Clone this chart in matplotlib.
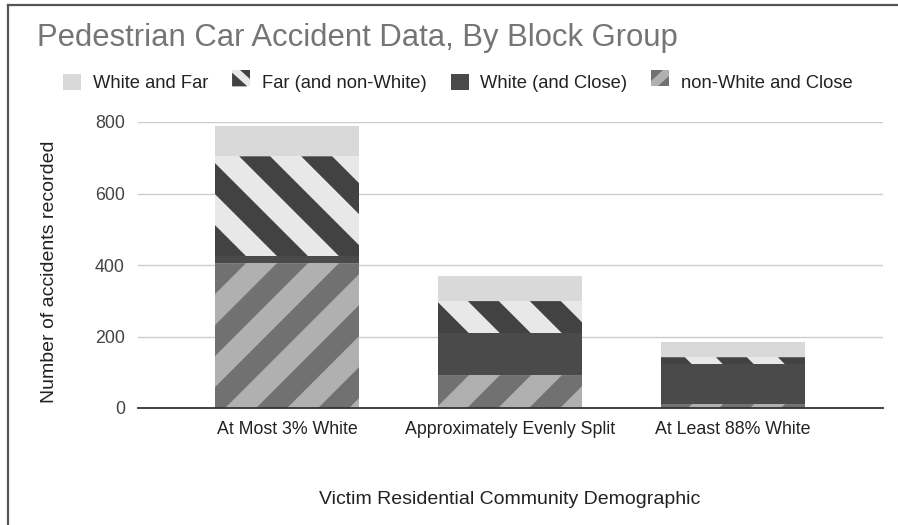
import numpy as np
import matplotlib
matplotlib.use('Agg')
import matplotlib.pyplot as plt
from matplotlib.patches import Rectangle, Polygon, Patch
from matplotlib.transforms import IdentityTransform
from matplotlib.lines import Line2D

plt.rcParams['font.family'] = ['Liberation Sans', 'DejaVu Sans']

categorias = ['At Most 3% White', 'Approximately Evenly Split', 'At Least 88% White']
series = ['White and Far', 'Far (and non-White)', 'White (and Close)', 'non-White and Close']

# valores (de abajo hacia arriba en la pila)
noblanco_cerca = [405, 92, 11]
blanco_cerca = [20, 117, 111]
lejos_noblanco = [279, 90, 20]
blanco_lejos = [85, 71, 42]

yticks = [0, 200, 400, 600, 800]

C_CLARO = '#d9d9d9'
C_OSCURO = '#4a4a4a'
C_RAYA_FONDO = '#e8e8e8'
C_RAYA = '#424242'
C_GRIS_FONDO = '#b0b0b0'
C_GRIS_RAYA = '#717171'

fig = plt.figure(figsize=(8.98, 5.25), dpi=100)
ax = fig.add_axes([138/898, 1 - 408/525, (883 - 138)/898, (408 - 122)/525])

X = np.arange(len(categorias))
ancho = 0.646
ax.set_xlim(-0.668, 2.672)
ax.set_ylim(0, 800)


def Rayas(ax, x0, x1, y0, y1, fondo, raya, direccion, periodo=62):
    rect = Rectangle((x0, y0), x1 - x0, y1 - y0, facecolor=fondo, edgecolor='none', zorder=2)
    ax.add_patch(rect)
    px0, py0 = ax.transData.transform((x0, y0))
    px1, py1 = ax.transData.transform((x1, y1))
    h = py1 - py0
    mitad = periodo / 2
    if direccion == '\\':
        s = px0
        fin = px1 + h + periodo
    else:
        s = px0 - h - periodo
        fin = px1 + periodo
    while s < fin:
        if direccion == '\\':
            pts = [(s, py0), (s + mitad, py0), (s + mitad - h, py1), (s - h, py1)]
        else:
            pts = [(s, py0), (s + mitad, py0), (s + mitad + h, py1), (s + h, py1)]
        p = Polygon(pts, closed=True, facecolor=raya, edgecolor='none',
                    transform=IdentityTransform(), zorder=3)
        ax.add_patch(p)
        p.set_clip_path(rect)
        s += periodo


for idx, x in enumerate(X):
    x0 = x - ancho / 2
    x1 = x + ancho / 2
    base = 0
    Rayas(ax, x0, x1, base, base + noblanco_cerca[idx], C_GRIS_FONDO, C_GRIS_RAYA, '/')
    base += noblanco_cerca[idx]
    ax.bar(x, blanco_cerca[idx], ancho, bottom=base, color=C_OSCURO, zorder=2)
    base += blanco_cerca[idx]
    Rayas(ax, x0, x1, base, base + lejos_noblanco[idx], C_RAYA_FONDO, C_RAYA, '\\')
    base += lejos_noblanco[idx]
    ax.bar(x, blanco_lejos[idx], ancho, bottom=base, color=C_CLARO, zorder=2)

ax.set_yticks(yticks)
ax.set_xticks(X)
ax.set_xticklabels(categorias, fontsize=12.8, color='#222222')
ax.tick_params(axis='y', length=0, pad=9.5, labelsize=12.8, labelcolor='#444444')
ax.tick_params(axis='x', length=0, pad=9, colors='#222222')
ax.grid(axis='y', color='#cccccc', linewidth=1, zorder=0)
for lado in ['top', 'right', 'left']:
    ax.spines[lado].set_visible(False)
ax.spines['bottom'].set_color('#333333')
ax.spines['bottom'].set_linewidth(1.3)
ax.spines['bottom'].set_zorder(4)


class ManejaRayas:
    def __init__(self, fondo, raya, direccion):
        self.fondo = fondo
        self.raya = raya
        self.direccion = direccion

    def legend_artist(self, legend, orig_handle, fontsize, handlebox):
        x0, y0 = handlebox.xdescent, handlebox.ydescent
        w, h = handlebox.width, handlebox.height
        t = handlebox.get_transform()
        fondo = Rectangle((x0, y0), w, h, facecolor=self.fondo, edgecolor='none', transform=t)
        handlebox.add_artist(fondo)
        if self.direccion == '\\':
            a = Polygon([(x0, y0), (x0 + 0.85 * w, y0), (x0, y0 + 0.85 * h)], facecolor=self.raya,
                        edgecolor='none', transform=t)
            b = Polygon([(x0 + w, y0 + 0.45 * h), (x0 + w, y0 + h), (x0 + 0.45 * w, y0 + h)],
                        facecolor=self.raya, edgecolor='none', transform=t)
        else:
            a = Polygon([(x0, y0 + 0.35 * h), (x0, y0 + h), (x0 + 0.65 * w, y0 + h)], facecolor=self.raya,
                        edgecolor='none', transform=t)
            b = Polygon([(x0 + 0.35 * w, y0), (x0 + w, y0), (x0 + w, y0 + 0.65 * h)],
                        facecolor=self.raya, edgecolor='none', transform=t)
        handlebox.add_artist(a)
        handlebox.add_artist(b)
        return fondo


h_far = Patch(label=series[1])
h_nw = Patch(label=series[3])
handles = [Patch(facecolor=C_CLARO, label=series[0]), h_far,
           Patch(facecolor=C_OSCURO, label=series[2]), h_nw]
fig.legend(handles=handles, loc='center left', bbox_to_anchor=(63/898, 1 - 83/525),
           ncol=4, frameon=False, fontsize=13.2, handlelength=0.98, handleheight=0.98,
           handletextpad=0.65, columnspacing=1.3, borderpad=0, borderaxespad=0,
           labelcolor='#222222',
           handler_map={h_far: ManejaRayas(C_RAYA_FONDO, C_RAYA, '\\'),
                        h_nw: ManejaRayas(C_GRIS_FONDO, C_GRIS_RAYA, '/')})

fig.text(37/898, 1 - 38/525, 'Pedestrian Car Accident Data, By Block Group', fontsize=22.3,
         color='#757575', va='center', ha='left')
fig.text(50/898, 1 - 272/525, 'Number of accidents recorded', fontsize=14, rotation=90,
         va='center', ha='center', color='#222222')
fig.text(510/898, 1 - 500/525, 'Victim Residential Community Demographic', fontsize=14,
         va='center', ha='center', color='#222222')

# borde de la captura
fig.add_artist(Line2D([8/898, 8/898], [0, 1 - 5/525], color='#555555', linewidth=1.6))
fig.add_artist(Line2D([8/898, 1], [1 - 5/525, 1 - 5/525], color='#555555', linewidth=1.6))

plt.savefig('out.png', dpi=100)
